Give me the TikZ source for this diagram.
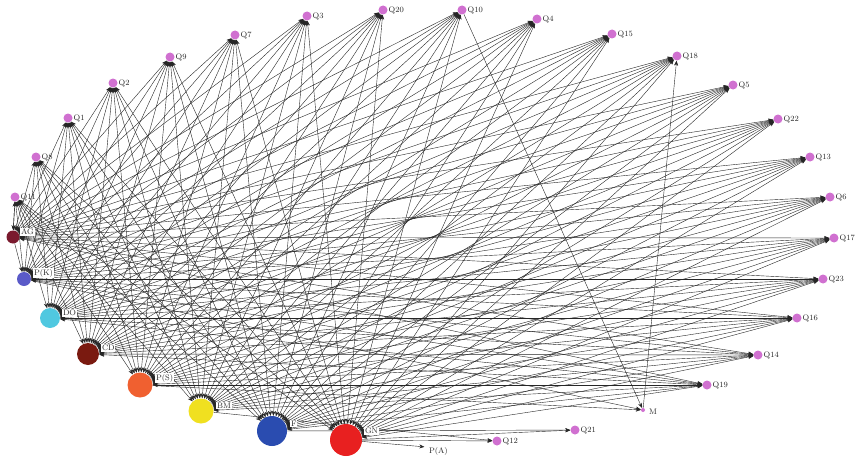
\documentclass[tikz,border=0pt]{standalone}
\usetikzlibrary{arrows.meta,backgrounds}
\begin{document}
\begin{tikzpicture}[x=1pt,y=-1pt,
  qn/.style={circle,fill=qpink,inner sep=0pt,minimum size=9pt},
  fn/.style={circle,inner sep=0pt},
  lb/.style={font=\fontsize{8}{9}\selectfont,text=black!85,inner sep=0.8pt},
  flb/.style={lb,fill=white,anchor=south west},
  edge/.style={draw=black!85,line width=0.4pt,{Stealth[length=5pt,width=4pt]}-{Stealth[length=5pt,width=4pt]}},
  oneway/.style={draw=black!85,line width=0.4pt,-{Stealth[length=5pt,width=4pt]}}]
\definecolor{qpink}{HTML}{D070D0}
\definecolor{cAG}{HTML}{7A1A2E}
\definecolor{cPK}{HTML}{5A5AC8}
\definecolor{cDO}{HTML}{50C8E0}
\definecolor{cCD}{HTML}{7A1A10}
\definecolor{cPS}{HTML}{F06030}
\definecolor{cBM}{HTML}{F0E020}
\definecolor{cF}{HTML}{2A4CB0}
\definecolor{cGN}{HTML}{E82020}
\useasboundingbox (0,0) rectangle (859,460);
% question nodes
\foreach \n/\x/\y in {Q1/68/118, Q2/113/83, Q3/307/16, Q4/537/19, Q5/733/85, Q6/830/197,
  Q7/235/35, Q8/36/157, Q9/170/57, Q10/462/10, Q11/15/197, Q12/497/441, Q13/810/157,
  Q14/758/355, Q15/612/34, Q16/797/318, Q17/834/238, Q18/677/56, Q19/707/385,
  Q20/383/10, Q21/575/430, Q22/778/119, Q23/823/279}
  \node[qn,label={[lb,anchor=west]right:\n}] (\n) at (\x,\y) {};
\node[qn,minimum size=4pt] (M) at (643,410) {};
\node[lb,anchor=west] (Mlab) at (648,412) {M};
\node[fn,minimum size=3pt] (PA) at (426,447) {};
\node[lb,anchor=west] (PAlab) at (428,451) {P(A)};
% factor nodes
\node[fn,fill=cAG,minimum size=13pt] (AG) at (13,237) {};
\node[fn,fill=cPK,minimum size=14pt] (PK) at (24,279) {};
\node[fn,fill=cDO,minimum size=20pt] (DO) at (50,318) {};
\node[fn,fill=cCD,minimum size=22pt] (CD) at (88,354) {};
\node[fn,fill=cPS,minimum size=25pt] (PS) at (140,385) {};
\node[fn,fill=cBM,minimum size=25pt] (BM) at (201,411) {};
\node[fn,fill=cF,minimum size=30pt] (F) at (272,431) {};
\node[fn,fill=cGN,minimum size=32pt] (GN) at (346,440) {};
\node[flb] (AGl) at (20,236) {AG};
\node[flb] (PKl) at (33,278) {P(K)};
\node[flb] (DOl) at (62,317) {DO};
\node[flb] (CDl) at (101,352) {CD};
\node[flb] (PSl) at (155,383) {P(S)};
\node[flb] (BMl) at (216,409) {BM};
\node[flb] (Fl) at (290,427) {F};
\node[flb] (GNl) at (364,435) {GN};
% edges
\begin{pgfonlayer}{background}
\fill[white] (0,0) rectangle (859,460);
\foreach \f in {AG,PK,DO,CD,PS,BM,F,GN}
  \foreach \q in {Q1,Q2,Q3,Q4,Q5,Q6,Q7,Q8,Q9,Q10,Q11,Q13,Q14,Q15,Q16,Q17,Q18,Q19,Q20,Q22,Q23}
    \draw[edge] (\f) -- (\q);
\draw[oneway] (F) -- (Q21);
\draw[oneway] (GN) -- (Q21);
\draw[oneway] (GN) -- (Q12);
\draw[oneway] (BM) -- (Q12);
\draw[oneway] (GN) -- (PA);
\draw[oneway] (Q10) -- (M);
\draw[oneway] (M) -- (Q18);
\draw[oneway] (PK) -- (M);
\draw[oneway] (PS) -- (M);
\draw[oneway] (Q11) -- (AG);
\draw[oneway] (AG) -- (PK);
\end{pgfonlayer}
\end{tikzpicture}
\end{document}
